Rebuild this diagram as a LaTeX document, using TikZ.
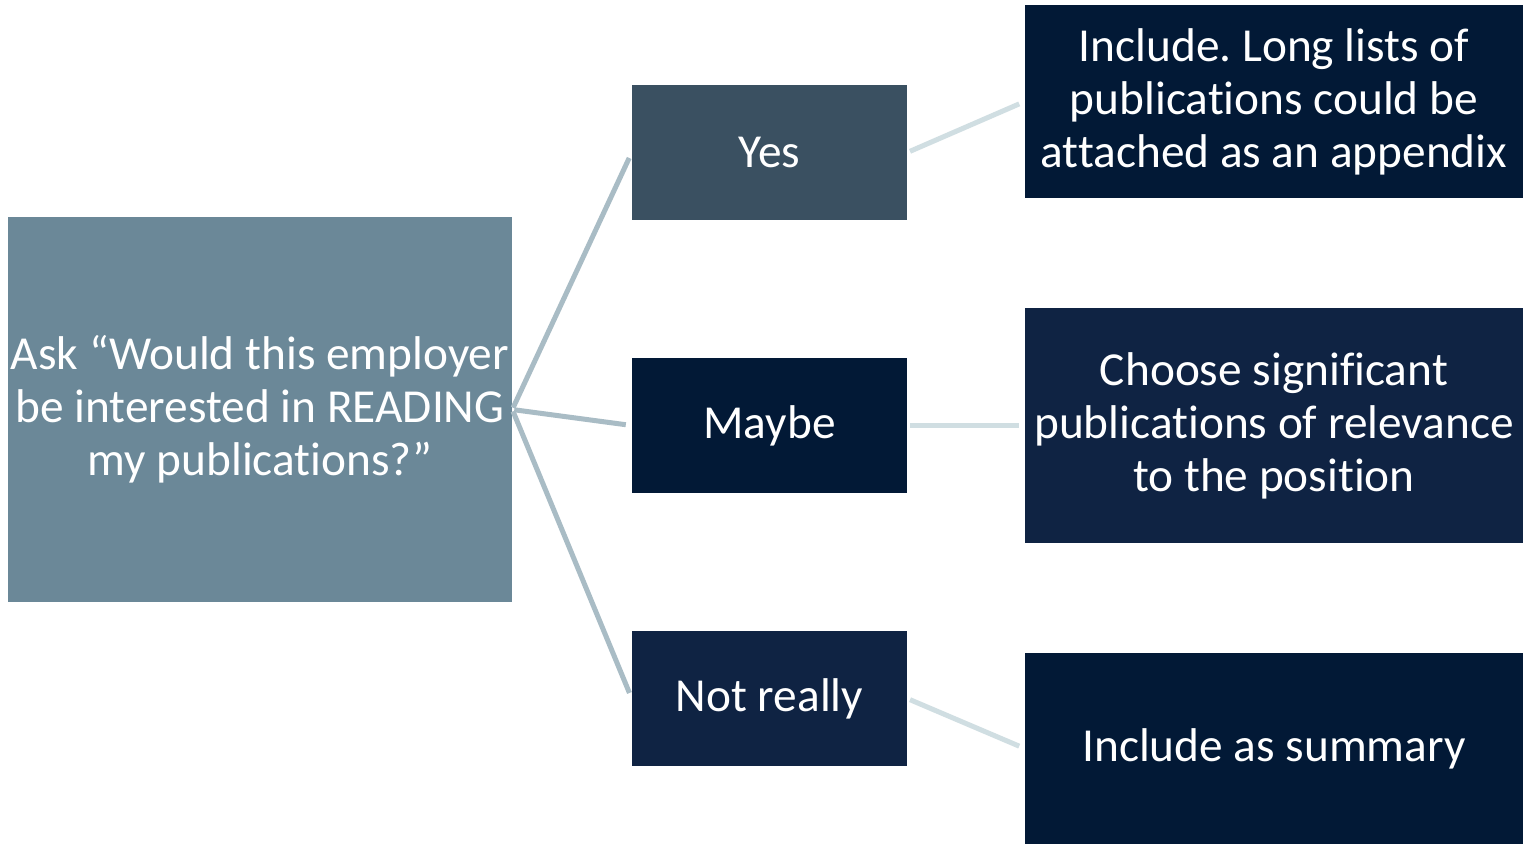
\documentclass[tikz,border=0pt]{standalone}
\usepackage{fontspec}
\setmainfont[Ligatures={NoCommon}]{Carlito}
\frenchspacing
\definecolor{rootc}{HTML}{6B8898}
\definecolor{yesc}{HTML}{3A5061}
\definecolor{navyA}{HTML}{021936}
\definecolor{navyB}{HTML}{0F2343}
\definecolor{linkL}{HTML}{A9BCC5}
\definecolor{linkR}{HTML}{D0DEE2}
\tikzset{
  box/.style={draw=none, text=white, align=center, inner sep=0pt,
    font=\fontsize{35.5}{39.75}\selectfont},
  linkleft/.style={draw=linkL, line width=3.75pt},
  linkright/.style={draw=linkR, line width=3.75pt},
}
\begin{document}
\begin{tikzpicture}[x=0.75pt,y=-0.75pt]
\useasboundingbox (0,0) rectangle (1523,844);
\fill[white] (0,0) rectangle (1523,844);
% boxes
\node[box, fill=rootc, minimum width=504*0.75pt, minimum height=385*0.75pt] (root) at (260,409.5)
  {Ask “Would this employer\\be interested in READING\\my publications?”};
\node[box, fill=yesc, minimum width=275*0.75pt, minimum height=135*0.75pt] (yes) at (769.5,152.5) {Yes};
\node[box, fill=navyA, minimum width=275*0.75pt, minimum height=135*0.75pt] (maybe) at (769.5,425.5) {Maybe};
\node[box, fill=navyB, minimum width=275*0.75pt, minimum height=135*0.75pt] (notreally) at (769.5,698.5) {Not really};
\node[box, fill=navyA, minimum width=498*0.75pt, minimum height=193*0.75pt] (r1) at (1274,101.5)
  {Include. Long lists of\\publications could be\\attached as an appendix};
\node[box, fill=navyB, minimum width=498*0.75pt, minimum height=235*0.75pt] (r2) at (1274,425.5)
  {Choose significant\\publications of relevance\\to the position};
\node[box, fill=navyA, minimum width=498*0.75pt, minimum height=191*0.75pt] (r3) at (1274,748.5)
  {Include as summary};
% connectors
\draw[linkleft, shorten <=1.5pt, shorten >=4.5pt] (root.east) -- (yes.west);
\draw[linkleft, shorten <=1.5pt, shorten >=4.5pt] (root.east) -- (maybe.west);
\draw[linkleft, shorten <=1.5pt, shorten >=4.5pt] (root.east) -- (notreally.west);
\draw[linkright, shorten <=2.25pt, shorten >=4.5pt] (yes.east) -- (r1.west);
\draw[linkright, shorten <=2.25pt, shorten >=4.5pt] (maybe.east) -- (r2.west);
\draw[linkright, shorten <=2.25pt, shorten >=4.5pt] (notreally.east) -- (r3.west);
\end{tikzpicture}
\end{document}
